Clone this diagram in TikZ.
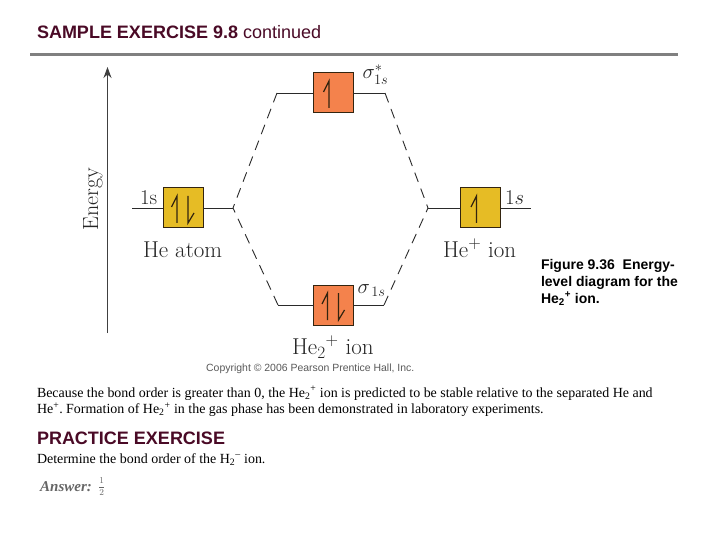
\documentclass[tikz,border=0pt]{standalone}
\usepackage{fontspec}
\usetikzlibrary{arrows.meta}
\newfontfamily\sansf{Liberation Sans}
\newfontfamily\seriff{Liberation Serif}
\definecolor{maroon}{HTML}{4A0A26}
\definecolor{orangebox}{HTML}{F4824C}
\definecolor{yellowbox}{HTML}{E6BC25}
\definecolor{edgebox}{HTML}{33240F}
\definecolor{inkline}{HTML}{2A2A2A}
\newcommand{\fs}[1]{\fontsize{#1}{#1}\selectfont}
\newcommand{\upspin}[2]{\draw[spin] ([xshift=#2,yshift=-15pt]#1.center) -- ([xshift=#2,yshift=12pt]#1.center) -- ([xshift=#2-5.5pt,yshift=1pt]#1.center);}
\newcommand{\downspin}[2]{\draw[spin] ([xshift=#2,yshift=12pt]#1.center) -- ([xshift=#2,yshift=-15pt]#1.center) -- ([xshift=#2+6pt,yshift=-5pt]#1.center);}
\frenchspacing
\tikzset{
  orbital/.style={draw=edgebox,line width=1pt,minimum size=40pt,inner sep=0pt,outer sep=0pt},
  level/.style={draw=inkline,line width=0.9pt},
  corr/.style={draw=inkline,line width=0.9pt,dash pattern=on 10pt off 7pt},
  spin/.style={draw=edgebox,line width=1.2pt,line join=miter},
  lab/.style={anchor=base west,inner sep=0pt,outer sep=0pt,text=black!85},
  txt/.style={anchor=base west,inner sep=0pt,outer sep=0pt,font=\seriff\fs{13.95},text=black},
  head/.style={anchor=base west,inner sep=0pt,outer sep=0pt,font=\sansf\bfseries\fs{18},text=maroon},
  captxt/.style={anchor=base west,inner sep=0pt,outer sep=0pt,font=\sansf\bfseries\fs{14},text=black}
}
\begin{document}
\begin{tikzpicture}[x=1pt,y=-1pt]
\useasboundingbox (0,0) rectangle (720,540);
\fill[white] (0,0) rectangle (720,540);

% header
\node[head,text=maroon] (title) at (37,38.5) {SAMPLE EXERCISE 9.8 \mdseries continued};
\coordinate (ruleL) at (30,54.5);
\coordinate (ruleR) at (678,54.5);
\draw[line width=3pt,draw=black!50] (ruleL) -- (ruleR);

% energy axis
\coordinate (axisB) at (107.5,333);
\coordinate (axisT) at (107.5,67);
\draw[draw=black!75,line width=1.3pt,-{Stealth[length=11pt,width=8pt]}] (axisB) -- (axisT);
\node[lab,anchor=base,rotate=90] (energy) at (98,199.5) {\fs{22}Energy};

% orbital boxes
\node[orbital,fill=orangebox] (top) at (333,93) {};
\node[orbital,fill=yellowbox] (left) at (183,208) {};
\node[orbital,fill=yellowbox] (right) at (480.5,208) {};
\node[orbital,fill=orangebox] (bot) at (333.5,305) {};

% level end points
\coordinate (lA) at (132,208);
\coordinate (lB) at (233,208);
\coordinate (rA) at (428,208);
\coordinate (rB) at (531,208);
\coordinate (tA) at (277,93);
\coordinate (tB) at (385,93);
\coordinate (bA) at (278,305);
\coordinate (bB) at (384,305);

\draw[level] (lA) -- (left) (left) -- (lB);
\draw[level] (rA) -- (right) (right) -- (rB);
\draw[level] (tA) -- (top) (top) -- (tB);
\draw[level] (bA) -- (bot) (bot) -- (bB);

\draw[corr] (tA) -- (lB);
\draw[corr] (tB) -- (rA);
\draw[corr] (bA) -- (lB);
\draw[corr] (bB) -- (rA);

% spins
\upspin{top}{-4pt}
\upspin{right}{-4pt}
\upspin{left}{-6pt}
\downspin{left}{5pt}
\upspin{bot}{-6pt}
\downspin{bot}{5pt}

% orbital labels
\node[lab] (s1) at (140,205) {\fs{21}1s};
\node[lab] (s2) at (505,205) {\fs{21}1$s$};
\node[lab] (sigstar) at (362.5,79) {\fs{21}$\sigma^{*}_{1s}$};
\node[lab] (sig) at (357.5,293) {\fs{21}$\sigma_{\,1s}$};
\node[lab] (heatom) at (143,257.5) {\fs{23}He atom};
\node[lab] (heion) at (443,257.5) {\fs{23}He$^{+}$ ion};
\node[lab] (he2ion) at (292,354.5) {\fs{23}He$_{2}{}^{+}$ ion};
\node[anchor=base west,inner sep=0pt,text=black!65,font=\sansf\fs{10.45}] (copy) at (206,371) {Copyright © 2006 Pearson Prentice Hall, Inc.};

% caption
\node[captxt] (c1) at (541,269) {Figure 9.36\ \ Energy-};
\node[captxt] (c2) at (541,286) {level diagram for the};
\node[captxt] (c3) at (541,303) {He\textsubscript{2}\textsuperscript{+} ion.};

% body
\node[txt] (b1) at (37,397) {Because the bond order is greater than 0, the He\textsubscript{2}\textsuperscript{+} ion is predicted to be stable relative to the separated He and};
\node[txt] (b2) at (37,413.5) {He\textsuperscript{+}. Formation of He\textsubscript{2}\textsuperscript{+} in the gas phase has been demonstrated in laboratory experiments.};
\node[head] (pe) at (37,444) {PRACTICE EXERCISE};
\node[txt] (b3) at (37,463) {Determine the bond order of the H\textsubscript{2}\textsuperscript{–} ion.};
\node[anchor=base west,inner sep=0pt,text=black!60,font=\seriff\bfseries\itshape\fs{15}] (ans) at (40,491) {Answer:};
\node[anchor=base west,inner sep=0pt,text=black!60] (half) at (98,489.5) {\fs{9.5}$\displaystyle\frac{1}{2}$};
\end{tikzpicture}
\end{document}
